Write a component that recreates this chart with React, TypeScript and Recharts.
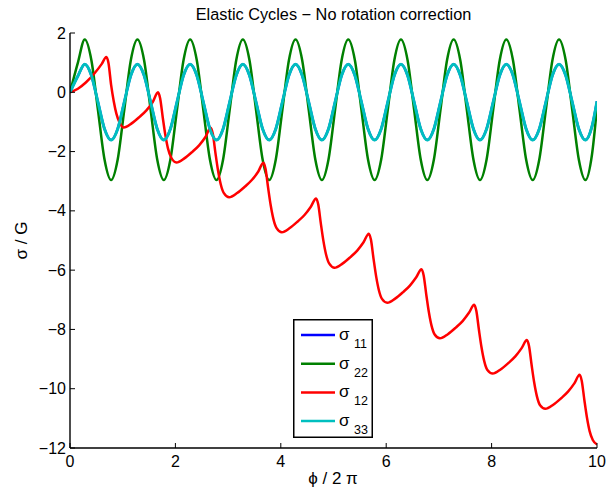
import { LineChart, Line, XAxis, YAxis, Legend } from "recharts"

// values, [phi / 2pi, sigma / G]
const s22: [number, number][] = [
  [0, 0], [0.15, 1.0],
  [0.28, 1.78], [0.405, 1.09], [0.53, -0.59], [0.655, -2.27], [0.78, -2.96], [0.905, -2.27], [1.03, -0.59], [1.155, 1.09],
  [1.28, 1.78], [1.405, 1.09], [1.53, -0.59], [1.655, -2.27], [1.78, -2.96], [1.905, -2.27], [2.03, -0.59], [2.155, 1.09],
  [2.28, 1.78], [2.405, 1.09], [2.53, -0.59], [2.655, -2.27], [2.78, -2.96], [2.905, -2.27], [3.03, -0.59], [3.155, 1.09],
  [3.28, 1.78], [3.405, 1.09], [3.53, -0.59], [3.655, -2.27], [3.78, -2.96], [3.905, -2.27], [4.03, -0.59], [4.155, 1.09],
  [4.28, 1.78], [4.405, 1.09], [4.53, -0.59], [4.655, -2.27], [4.78, -2.96], [4.905, -2.27], [5.03, -0.59], [5.155, 1.09],
  [5.28, 1.78], [5.405, 1.09], [5.53, -0.59], [5.655, -2.27], [5.78, -2.96], [5.905, -2.27], [6.03, -0.59], [6.155, 1.09],
  [6.28, 1.78], [6.405, 1.09], [6.53, -0.59], [6.655, -2.27], [6.78, -2.96], [6.905, -2.27], [7.03, -0.59], [7.155, 1.09],
  [7.28, 1.78], [7.405, 1.09], [7.53, -0.59], [7.655, -2.27], [7.78, -2.96], [7.905, -2.27], [8.03, -0.59], [8.155, 1.09],
  [8.28, 1.78], [8.405, 1.09], [8.53, -0.59], [8.655, -2.27], [8.78, -2.96], [8.905, -2.27], [9.03, -0.59], [9.155, 1.09],
  [9.28, 1.78], [9.405, 1.09], [9.53, -0.59], [9.655, -2.27], [9.78, -2.96], [9.905, -2.1], [10, -0.5],
]

const s33: [number, number][] = [
  [0, 0], [0.15, 0.55],
  [0.28, 0.95], [0.405, 0.575], [0.53, -0.33], [0.655, -1.235], [0.78, -1.61], [0.905, -1.235], [1.03, -0.33], [1.155, 0.575],
  [1.28, 0.95], [1.405, 0.575], [1.53, -0.33], [1.655, -1.235], [1.78, -1.61], [1.905, -1.235], [2.03, -0.33], [2.155, 0.575],
  [2.28, 0.95], [2.405, 0.575], [2.53, -0.33], [2.655, -1.235], [2.78, -1.61], [2.905, -1.235], [3.03, -0.33], [3.155, 0.575],
  [3.28, 0.95], [3.405, 0.575], [3.53, -0.33], [3.655, -1.235], [3.78, -1.61], [3.905, -1.235], [4.03, -0.33], [4.155, 0.575],
  [4.28, 0.95], [4.405, 0.575], [4.53, -0.33], [4.655, -1.235], [4.78, -1.61], [4.905, -1.235], [5.03, -0.33], [5.155, 0.575],
  [5.28, 0.95], [5.405, 0.575], [5.53, -0.33], [5.655, -1.235], [5.78, -1.61], [5.905, -1.235], [6.03, -0.33], [6.155, 0.575],
  [6.28, 0.95], [6.405, 0.575], [6.53, -0.33], [6.655, -1.235], [6.78, -1.61], [6.905, -1.235], [7.03, -0.33], [7.155, 0.575],
  [7.28, 0.95], [7.405, 0.575], [7.53, -0.33], [7.655, -1.235], [7.78, -1.61], [7.905, -1.235], [8.03, -0.33], [8.155, 0.575],
  [8.28, 0.95], [8.405, 0.575], [8.53, -0.33], [8.655, -1.235], [8.78, -1.61], [8.905, -1.235], [9.03, -0.33], [9.155, 0.575],
  [9.28, 0.95], [9.405, 0.575], [9.53, -0.33], [9.655, -1.235], [9.78, -1.61], [9.905, -1.15], [10, -0.3],
]

// sigma_11 lies exactly under sigma_33 in the picture
const s11: [number, number][] = s33

const s12: [number, number][] = [
  [0, 0], [0.15, 0.12], [0.3, 0.33], [0.47, 0.65], [0.6, 0.95], [0.69, 1.19],
  [0.73, 0.99], [0.78, 0.25], [0.83, -0.3], [0.88, -0.72], [0.94, -1.02],
  [1.02, -1.19], [1.17, -1.05], [1.32, -0.83], [1.45, -0.61], [1.57, -0.33], [1.67, 0.0],
  [1.71, -0.2], [1.76, -0.85], [1.81, -1.45], [1.86, -1.9], [1.92, -2.2],
  [2.02, -2.37], [2.17, -2.23], [2.32, -2.01], [2.45, -1.79], [2.57, -1.51], [2.67, -1.2],
  [2.71, -1.4], [2.76, -2.05], [2.81, -2.65], [2.86, -3.1], [2.92, -3.4],
  [3.02, -3.54], [3.17, -3.4], [3.32, -3.18], [3.45, -2.96], [3.57, -2.68], [3.67, -2.38],
  [3.71, -2.58], [3.76, -3.23], [3.81, -3.83], [3.86, -4.28], [3.92, -4.58],
  [4.02, -4.72], [4.17, -4.58], [4.32, -4.36], [4.45, -4.14], [4.57, -3.86], [4.67, -3.58],
  [4.71, -3.78], [4.76, -4.43], [4.81, -5.03], [4.86, -5.48], [4.92, -5.78],
  [5.02, -5.92], [5.17, -5.78], [5.32, -5.56], [5.45, -5.34], [5.57, -5.06], [5.67, -4.77],
  [5.71, -4.97], [5.76, -5.62], [5.81, -6.22], [5.86, -6.67], [5.92, -6.97],
  [6.02, -7.1], [6.17, -6.96], [6.32, -6.74], [6.45, -6.52], [6.57, -6.24], [6.67, -5.97],
  [6.71, -6.17], [6.76, -6.82], [6.81, -7.42], [6.86, -7.87], [6.92, -8.17],
  [7.02, -8.3], [7.17, -8.16], [7.32, -7.94], [7.45, -7.72], [7.57, -7.44], [7.67, -7.17],
  [7.71, -7.37], [7.76, -8.02], [7.81, -8.62], [7.86, -9.07], [7.92, -9.37],
  [8.02, -9.49], [8.17, -9.35], [8.32, -9.13], [8.45, -8.91], [8.57, -8.63], [8.67, -8.36],
  [8.71, -8.56], [8.76, -9.21], [8.81, -9.81], [8.86, -10.26], [8.92, -10.56],
  [9.02, -10.68], [9.17, -10.54], [9.32, -10.32], [9.45, -10.1], [9.57, -9.82], [9.67, -9.53],
  [9.71, -9.73], [9.76, -10.38], [9.81, -10.98], [9.86, -11.43], [9.92, -11.73], [10, -11.88],
]

const xTicks = [0, 2, 4, 6, 8, 10]
const yTicks = [-12, -10, -8, -6, -4, -2, 0, 2]
const seriesNames = ["σ11", "σ22", "σ12", "σ33"]

const font = "'Liberation Sans', Arial, Helvetica, sans-serif"
const toPts = (arr: [number, number][]) => arr.map(([x, y]) => ({ x, y }))
const fmt = (v: number) => (v < 0 ? "\u2212" + Math.abs(v) : String(v))

const BottomTick = (p: any) => (
  <g>
    <line x1={p.x} x2={p.x} y1={p.y} y2={p.y - 5} stroke="#000" />
    <text x={p.x} y={p.y + 19} textAnchor="middle" fontSize={16} fontFamily={font} fill="#000">
      {fmt(p.payload.value)}
    </text>
  </g>
)

const LeftTick = (p: any) => (
  <g>
    <line x1={p.x + 4} x2={p.x + 9} y1={p.y} y2={p.y} stroke="#000" />
    <text x={p.x} y={p.y + 5.5} textAnchor="end" fontSize={16} fontFamily={font} fill="#000">
      {fmt(p.payload.value)}
    </text>
  </g>
)

const TopTick = (p: any) => <line x1={p.x} x2={p.x} y1={p.y} y2={p.y + 5} stroke="#000" />
const RightTick = (p: any) => <line x1={p.x - 5} x2={p.x} y1={p.y} y2={p.y} stroke="#000" />

const LegendBox = (props: any) => {
  const items = [...(props.payload || [])].sort(
    (a: any, b: any) => seriesNames.indexOf(String(a.value)) - seriesNames.indexOf(String(b.value))
  )
  return (
    <svg width={80} height={119} style={{ display: "block" }}>
      <rect x={0.75} y={0.75} width={78.5} height={117.5} fill="#fff" stroke="#000" strokeWidth={1.5} />
      {items.map((e: any, i: number) => {
        const cy = 16 + i * 28.7
        const name = String(e.value)
        return (
          <g key={name}>
            <line x1={8} x2={42} y1={cy} y2={cy} stroke={e.color} strokeWidth={2.5} />
            <text x={46} y={cy + 5} fontSize={17} fontFamily={font} fill="#000">{name.slice(0, 1)}</text>
            <text x={61} y={cy + 13} fontSize={12.5} fontFamily={font} fill="#000">{name.slice(1)}</text>
          </g>
        )
      })}
    </svg>
  )
}

const axisLine = { stroke: "#000", strokeWidth: 1.4 }

export default function App() {
  return (
    <div style={{ position: "absolute", left: 0, top: 0, width: 606, height: 495, background: "#fff", fontFamily: font }}>
      <div style={{ position: "absolute", left: 70, top: 6, width: 527, textAlign: "center", fontSize: 16.3, lineHeight: "16px", color: "#000", whiteSpace: "nowrap" }}>
        Elastic Cycles {"\u2212"} No rotation correction
      </div>
      <LineChart width={606} height={495} margin={{ top: 33, right: 9, bottom: 0, left: 0 }}>
        <XAxis dataKey="x" type="number" domain={[0, 10]} ticks={xTicks} interval={0} allowDataOverflow
          height={47} tickSize={0} tickMargin={0} tickLine={false} axisLine={axisLine} tick={<BottomTick />} />
        <XAxis xAxisId="top" orientation="top" dataKey="x" type="number" domain={[0, 10]} ticks={xTicks} interval={0}
          allowDataOverflow height={0} tickSize={0} tickMargin={0} tickLine={false} axisLine={axisLine} tick={<TopTick />} />
        <YAxis type="number" domain={[-12, 2]} ticks={yTicks} interval={0} allowDataOverflow
          width={70} tickSize={0} tickMargin={4} tickLine={false} axisLine={axisLine} tick={<LeftTick />} />
        <YAxis yAxisId="right" orientation="right" type="number" domain={[-12, 2]} ticks={yTicks} interval={0}
          allowDataOverflow width={0} tickSize={0} tickMargin={0} tickLine={false} axisLine={axisLine} tick={<RightTick />} />
        <Line data={toPts(s11)} dataKey="y" name={seriesNames[0]} type="monotone" stroke="#0000ff" strokeWidth={2.5} dot={false} activeDot={false} isAnimationActive={false} />
        <Line data={toPts(s22)} dataKey="y" name={seriesNames[1]} type="monotone" stroke="#008000" strokeWidth={2.5} dot={false} activeDot={false} isAnimationActive={false} />
        <Line data={toPts(s12)} dataKey="y" name={seriesNames[2]} type="monotone" stroke="#ff0000" strokeWidth={2.5} dot={false} activeDot={false} isAnimationActive={false} />
        <Line data={toPts(s33)} dataKey="y" name={seriesNames[3]} type="monotone" stroke="#00bfbf" strokeWidth={3} dot={false} activeDot={false} isAnimationActive={false} />
        <Legend layout="vertical" align="center" verticalAlign="middle" width={80} height={119}
          wrapperStyle={{ position: "absolute", left: 293, top: 319, width: 80, height: 119 }} content={<LegendBox />} />
      </LineChart>
      <div style={{ position: "absolute", left: 283, top: 470, width: 100, textAlign: "center", fontSize: 17, lineHeight: "17px", color: "#000" }}>
        {"\u03d5 / 2 \u03c0"}
      </div>
      <div style={{ position: "absolute", left: -29, top: 232, width: 100, height: 17, textAlign: "center", fontSize: 17, lineHeight: "17px", color: "#000", transform: "rotate(-90deg)" }}>
        σ / G
      </div>
    </div>
  )
}
